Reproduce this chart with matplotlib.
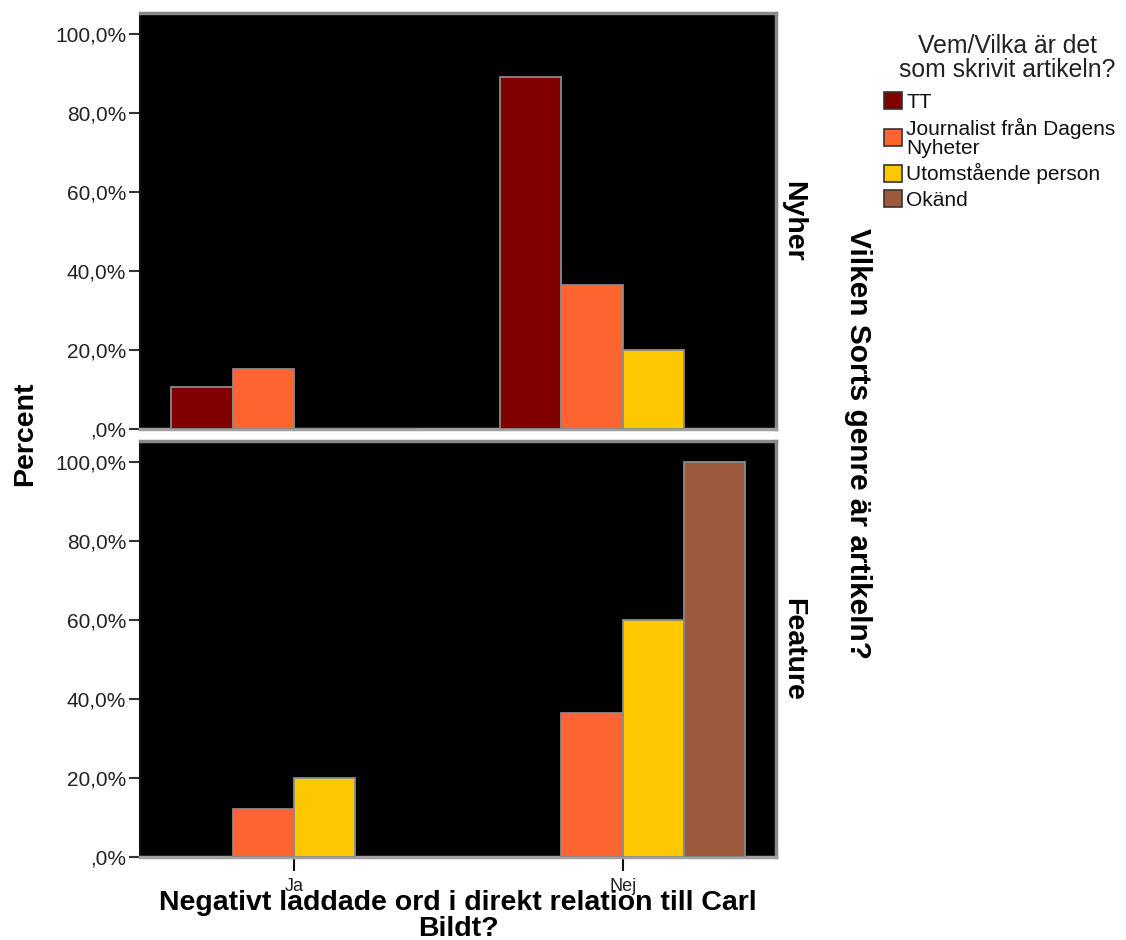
import matplotlib
matplotlib.use("Agg")
import matplotlib.pyplot as plt
import numpy as np
from matplotlib.patches import Patch

plt.rcParams['font.family'] = ['Liberation Sans', 'DejaVu Sans']

# ---- data ----
categories = ['Ja', 'Nej']
panels = ['Nyher', 'Feature']
series = ['TT', 'Journalist från Dagens\nNyheter', 'Utomstående person', 'Okänd']
colors = ['#800000', '#fd6530', '#fdc800', '#9e5a3c']

# percent values per panel: rows = series, cols = categories
nyher_tt = [10.7, 89.3]
nyher_journalist = [15.2, 36.4]
nyher_utomstaende = [0.0, 20.0]
nyher_okand = [0.0, np.nan]

feature_tt = [np.nan, np.nan]
feature_journalist = [12.1, 36.4]
feature_utomstaende = [20.0, 60.0]
feature_okand = [np.nan, 100.0]

ytick_values = [0, 20, 40, 60, 80, 100]
ytick_labels = [',0%', '20,0%', '40,0%', '60,0%', '80,0%', '100,0%']

legend_title = 'Vem/Vilka är det\nsom skrivit artikeln?'

panel_data = {
    'Nyher': [nyher_tt, nyher_journalist, nyher_utomstaende, nyher_okand],
    'Feature': [feature_tt, feature_journalist, feature_utomstaende, feature_okand],
}

# ---- figure ----
W, H = 1126, 940
fig = plt.figure(figsize=(W / 100, H / 100), dpi=100)

left = 140 / W
width = 635.5 / W
ax_top = fig.add_axes([left, 1 - 429 / H, width, 416.3 / H])
ax_bot = fig.add_axes([left, 1 - 857 / H, width, 416 / H])

x = np.arange(len(categories))
bw = 0.1868
offsets = (np.arange(len(series)) - 1.5) * bw

for ax, pname, ymax in [(ax_top, 'Nyher', 105.5), (ax_bot, 'Feature', 105.3)]:
    ax.set_facecolor('black')
    vals = panel_data[pname]
    for i, (s, c) in enumerate(zip(series, colors)):
        v = np.array(vals[i], dtype=float)
        mask = ~np.isnan(v)
        ax.bar(x[mask] + offsets[i], v[mask], width=bw, color=c,
               edgecolor='#8a8a8a', linewidth=1.3, zorder=3)
    ax.set_xlim(-0.4685, 1.465)
    ax.set_ylim(0, ymax)
    ax.set_yticks(ytick_values)
    ax.set_yticklabels(ytick_labels, fontsize=15, color='#222222')
    ax.tick_params(axis='y', length=8, width=1.5, color='#333333', pad=2)
    for side in ['top', 'right']:
        ax.spines[side].set_color('#8a8a8a')
        ax.spines[side].set_linewidth(2.5)
    ax.spines['bottom'].set_color('#a0a0a0')
    ax.spines['bottom'].set_linewidth(2.5)
    ax.spines['left'].set_color('#111111')
    ax.spines['left'].set_linewidth(1.5)
    ax.text(1.027, 0.5, pname, transform=ax.transAxes, rotation=-90,
            ha='center', va='center', fontsize=20.5, fontweight='bold')

ax_top.set_xticks([])
ax_bot.set_xticks(x)
ax_bot.set_xticklabels(categories, fontsize=13, color='#222222')
ax_bot.tick_params(axis='x', length=10, width=1.5, color='#111111', pad=5)

# axis titles
fig.text(25 / W, 1 - 434 / H, 'Percent', rotation=90, ha='center', va='center',
         fontsize=20.5, fontweight='bold')
fig.text(858 / W, 1 - 444 / H, 'Vilken Sorts genre är artikeln?', rotation=-90,
         ha='center', va='center', fontsize=21.5, fontweight='bold')
fig.text(458 / W, 1 - 890 / H, 'Negativt laddade ord i direkt relation till Carl\nBildt?',
         ha='center', va='top', fontsize=20.5, fontweight='bold', linespacing=1.0)

# legend title
fig.text(1007 / W, 1 - 58 / H, legend_title, ha='center', va='center',
         fontsize=17.8, color='#222222', linespacing=0.95, multialignment='center')

# legend
handles = [Patch(facecolor=c, edgecolor='#333333', linewidth=1.2) for c in colors]
leg = fig.legend(handles, series, loc='upper left', bbox_to_anchor=(884 / W, 1 - 92 / H),
                 frameon=False, fontsize=15, handlelength=0.87, handleheight=0.87,
                 handletextpad=0.2, labelspacing=0.28, borderaxespad=0, borderpad=0)
for t in leg.get_texts():
    t.set_color('#111111')
    t.set_linespacing(1.0)

fig.savefig('out.png', dpi=100, facecolor='white')
